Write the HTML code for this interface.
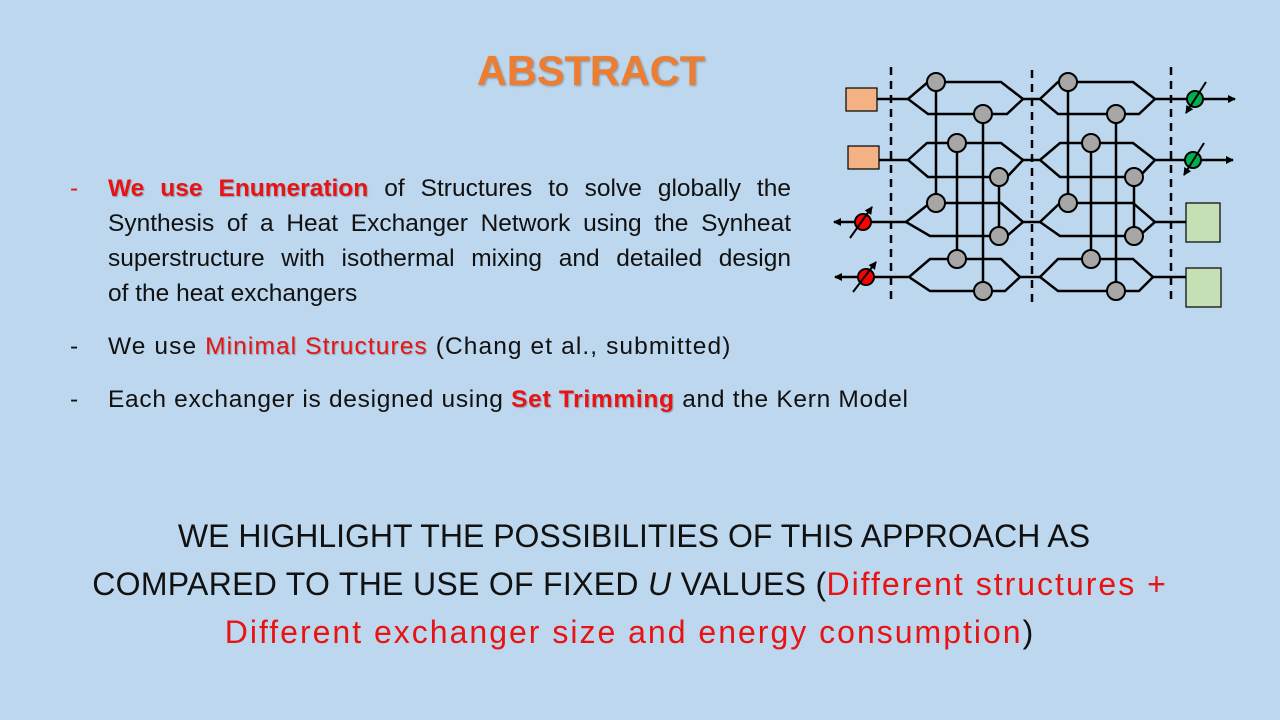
<!DOCTYPE html>
<html><head><meta charset="utf-8"><style>
body{margin:0;width:1280px;height:720px;background:#BDD7EE;position:relative;overflow:hidden;font-family:"Liberation Sans",sans-serif;}
.t{position:absolute;white-space:nowrap;color:#111;}
.r{color:#E81414;font-weight:bold;text-shadow:1px 1px 1px rgba(0,0,0,0.25);}
.rr{color:#E81414;}
.j{text-align:justify;text-align-last:justify;width:683px;}
.b{font-size:24.5px;}
.h{font-size:32px;left:0;width:1280px;text-align:center;}
</style></head><body>
<div class="t" style="left:0;width:1182px;text-align:center;top:47px;font-size:41.5px;font-weight:bold;color:#ED7D31;text-shadow:1px 1px 2px rgba(0,0,0,0.3)">ABSTRACT</div>

<div class="t b rr" style="left:70px;top:175px">-</div>
<div class="t b j" style="left:108px;top:175px"><span class="r">We use Enumeration</span> of Structures to solve globally the</div>
<div class="t b j" style="left:108px;top:210px">Synthesis of a Heat Exchanger Network using the Synheat</div>
<div class="t b j" style="left:108px;top:245px">superstructure with isothermal mixing and detailed design</div>
<div class="t b" style="left:108px;top:280px">of the heat exchangers</div>
<div class="t b" style="left:70px;top:333px">-</div>
<div class="t b" style="left:108px;top:333px;letter-spacing:1.1px">We use <span class="rr" style="text-shadow:1px 1px 1px rgba(0,0,0,0.25)">Minimal Structures</span> (Chang et al., submitted)</div>
<div class="t b" style="left:70px;top:386px">-</div>
<div class="t b" style="left:108px;top:386px;letter-spacing:0.7px">Each exchanger is designed using <span class="r">Set Trimming</span> and the Kern Model</div>

<div class="t h" style="top:518px;left:-6px">WE HIGHLIGHT THE POSSIBILITIES OF THIS APPROACH AS</div>
<div class="t h" style="top:566px;left:-10px;letter-spacing:0.3px">COMPARED TO THE USE OF FIXED <i>U</i> VALUES (<span class="rr" style="letter-spacing:2px">Different structures +</span></div>
<div class="t h" style="top:614px;left:-11px"><span class="rr" style="letter-spacing:2px">Different exchanger size and energy consumption</span>)</div>

<svg style="position:absolute;left:0;top:0" width="1280" height="720">
<defs><marker id="a" markerWidth="8" markerHeight="8" refX="7" refY="4" orient="auto" markerUnits="userSpaceOnUse"><path d="M0,0L8,4L0,8z" fill="#000"/></marker></defs>
<g stroke="#000" stroke-width="2.5" fill="none" stroke-dasharray="8,6">
<line x1="891" y1="67" x2="891" y2="305"/><line x1="1032" y1="70" x2="1032" y2="305"/><line x1="1171" y1="67" x2="1171" y2="305"/>
</g>
<g stroke="#000" stroke-width="2.5" fill="none">
<line x1="877" y1="99" x2="908" y2="99"/><line x1="1023" y1="99" x2="1040" y2="99"/><line x1="1155" y1="99" x2="1235" y2="99" marker-end="url(#a)"/>
<line x1="879" y1="160" x2="908" y2="160"/><line x1="1023" y1="160" x2="1040" y2="160"/><line x1="1155" y1="160" x2="1233" y2="160" marker-end="url(#a)"/>
<line x1="908" y1="222" x2="834" y2="222" marker-end="url(#a)"/><line x1="1023" y1="222" x2="1040" y2="222"/><line x1="1155" y1="222" x2="1186" y2="222"/>
<line x1="908" y1="277" x2="835" y2="277" marker-end="url(#a)"/><line x1="1020" y1="277" x2="1040" y2="277"/><line x1="1153" y1="277" x2="1186" y2="277"/>
<path d="M908,99L928,82L1001,82L1023,99L1007,114L928,114Z"/>
<path d="M908,160L927,143L1001,143L1023,160L1007,177L928,177Z"/>
<path d="M906,222L930,203L1001,203L1023,222L1007,236L930,236Z"/>
<path d="M909,277L930,259L1001,259L1020,277L1005,291L930,291Z"/>
<path d="M1040,99L1058,82L1133,82L1155,99L1139,114L1058,114Z"/>
<path d="M1040,160L1060,143L1133,143L1155,160L1139,177L1060,177Z"/>
<path d="M1040,222L1060,203L1133,203L1155,222L1139,236L1060,236Z"/>
<path d="M1040,277L1058,259L1133,259L1153,277L1139,291L1058,291Z"/>
<line x1="936" y1="82" x2="936" y2="203"/><line x1="983" y1="114" x2="983" y2="291"/>
<line x1="957" y1="143" x2="957" y2="259"/><line x1="999" y1="177" x2="999" y2="236"/>
<line x1="1068" y1="82" x2="1068" y2="203"/><line x1="1116" y1="114" x2="1116" y2="291"/>
<line x1="1091" y1="143" x2="1091" y2="259"/><line x1="1134" y1="177" x2="1134" y2="236"/>
</g>
<g fill="#A6A6A6" stroke="#000" stroke-width="2">
<circle cx="936" cy="82" r="9"/><circle cx="936" cy="203" r="9"/><circle cx="983" cy="114" r="9"/><circle cx="983" cy="291" r="9"/>
<circle cx="957" cy="143" r="9"/><circle cx="957" cy="259" r="9"/><circle cx="999" cy="177" r="9"/><circle cx="999" cy="236" r="9"/>
<circle cx="1068" cy="82" r="9"/><circle cx="1068" cy="203" r="9"/><circle cx="1116" cy="114" r="9"/><circle cx="1116" cy="291" r="9"/>
<circle cx="1091" cy="143" r="9"/><circle cx="1091" cy="259" r="9"/><circle cx="1134" cy="177" r="9"/><circle cx="1134" cy="236" r="9"/>
</g>
<g stroke="#000" stroke-width="1.2">
<rect x="846" y="88" width="31" height="23" fill="#F4B183"/>
<rect x="848" y="146" width="31" height="23" fill="#F4B183"/>
<rect x="1186" y="203" width="34" height="39" fill="#C5E0B4"/>
<rect x="1186" y="268" width="35" height="39" fill="#C5E0B4"/>
</g>
<g stroke="#000" stroke-width="2">
<circle cx="1195" cy="99" r="8" fill="#00B050"/><circle cx="1193" cy="160" r="8" fill="#00B050"/>
<circle cx="863" cy="222" r="8" fill="#FF0000"/><circle cx="866" cy="277" r="8" fill="#FF0000"/>
<line x1="1206" y1="82" x2="1186" y2="113" marker-end="url(#a)"/>
<line x1="1204" y1="143" x2="1184" y2="175" marker-end="url(#a)"/>
<line x1="850" y1="238" x2="872" y2="207" marker-end="url(#a)"/>
<line x1="853" y1="292" x2="876" y2="262" marker-end="url(#a)"/>
</g>
</svg>
</body></html>
